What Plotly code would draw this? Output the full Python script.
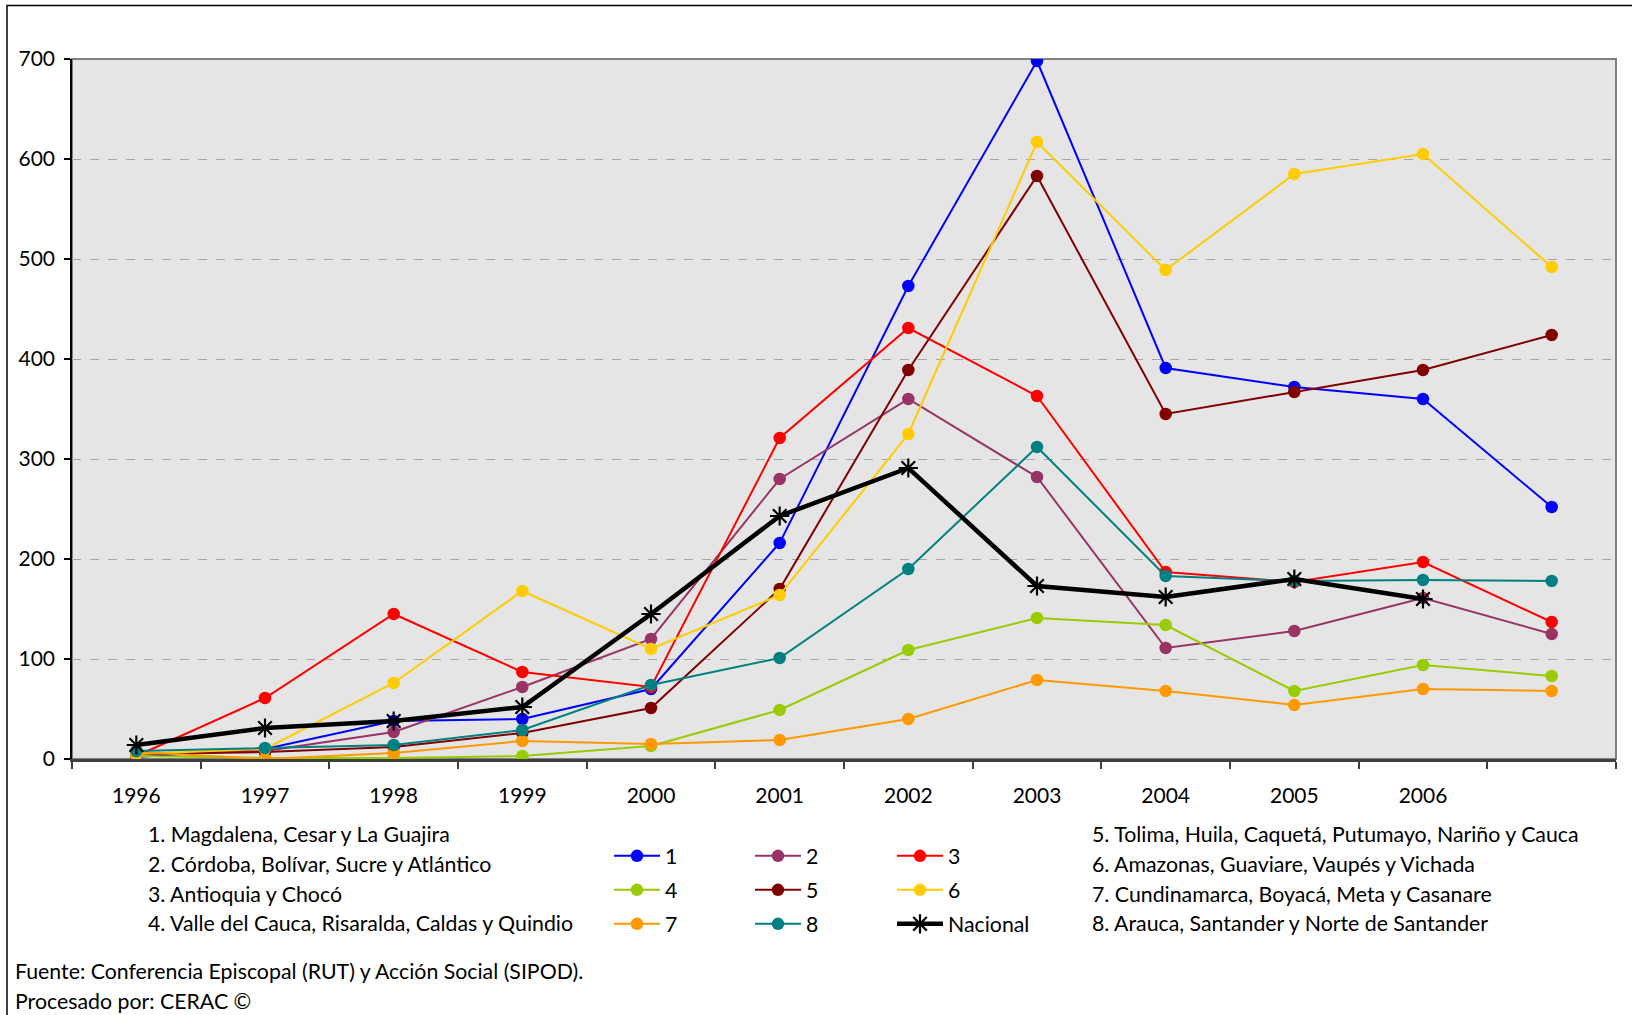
import plotly.graph_objects as go

years = ["1996", "1997", "1998", "1999", "2000", "2001", "2002", "2003", "2004", "2005", "2006", "2007"]
tick_labels = ["1996", "1997", "1998", "1999", "2000", "2001", "2002", "2003", "2004", "2005", "2006", ""]

s1 = [2, 10, 38, 40, 70, 216, 473, 698, 391, 372, 360, 252]
s2 = [5, 8, 27, 72, 120, 280, 360, 282, 111, 128, 161, 125]
s3 = [3, 61, 145, 87, 72, 321, 431, 363, 187, 177, 197, 137]
s4 = [3, 1, 1, 3, 13, 49, 109, 141, 134, 68, 94, 83]
s5 = [5, 7, 12, 26, 51, 170, 389, 583, 345, 367, 389, 424]
s6 = [5, 10, 76, 168, 110, 164, 325, 617, 489, 585, 605, 492]
s7 = [7, 0, 6, 18, 15, 19, 40, 79, 68, 54, 70, 68]
s8 = [8, 11, 14, 29, 74, 101, 190, 312, 183, 178, 179, 178]
nacional = [14, 31, 38, 52, 145, 243, 291, 173, 162, 180, 160, None]

series_names = ["1", "2", "3", "4", "5", "6", "7", "8"]
series_values = [s1, s2, s3, s4, s5, s6, s7, s8]
series_colors = ["#0000FF", "#993366", "#FF0000", "#99CC00", "#800000", "#FFCC00", "#FF9900", "#008080"]

desc_left = [
    "1. Magdalena, Cesar y La Guajira",
    "2. Córdoba, Bolívar, Sucre y Atlántico",
    "3. Antioquia y Chocó",
    "4. Valle del Cauca, Risaralda, Caldas y Quindio",
]
desc_right = [
    "5. Tolima, Huila, Caquetá, Putumayo, Nariño y Cauca",
    "6. Amazonas, Guaviare, Vaupés y Vichada",
    "7. Cundinamarca, Boyacá, Meta y Casanare",
    "8. Arauca, Santander y Norte de Santander",
]
footer = ["Fuente: Conferencia Episcopal (RUT) y Acción Social (SIPOD).", "Procesado por: CERAC ©"]

FONT = "Lato"
FS = 21.3
FS_TICK = 21
W, H = 1632, 1015
L, R, T, B = 72, 16, 59, 256
PW = W - L - R
PH = H - T - B


def px(x):
    return (x - L) / PW


def py(y):
    return (H - B - y) / PH


fig = go.Figure()

legend_ids = ["legend", "legend2", "legend3", "legend4", "legend5", "legend6", "legend7", "legend8", "legend9"]

for i, (name, vals, col) in enumerate(zip(series_names, series_values, series_colors)):
    fig.add_trace(go.Scatter(
        x=years, y=vals, name=name, mode="lines+markers",
        line=dict(color=col, width=2),
        marker=dict(color=col, size=12.5, symbol="circle"),
        legend=legend_ids[i],
    ))

fig.add_trace(go.Scatter(
    x=years, y=nacional, name="Nacional", mode="lines+markers",
    line=dict(color="#000000", width=4.5),
    marker=dict(color="#000000", size=16, symbol="asterisk-open", line=dict(color="#000000", width=2.2)),
    legend=legend_ids[8],
))

# legend grid positions (pixel coords)
col_x = [609, 750, 892]
row_y = [856, 890, 924]
layout_legends = {}
for k in range(9):
    r, c = divmod(k, 3)
    layout_legends[legend_ids[k]] = dict(
        x=px(col_x[c]), y=py(row_y[r]), xanchor="left", yanchor="middle",
        bgcolor="rgba(0,0,0,0)", borderwidth=0,
        font=dict(family=FONT, size=FS, color="#000000"),
        itemwidth=46,
    )

annotations = []
for j, t in enumerate(desc_left):
    annotations.append(dict(text=t, xref="paper", yref="paper", x=px(146), y=py(834 + j * 29.8),
                            xanchor="left", yanchor="middle", showarrow=False,
                            font=dict(family=FONT, size=FS, color="#000000")))
for j, t in enumerate(desc_right):
    annotations.append(dict(text=t, xref="paper", yref="paper", x=px(1090), y=py(834 + j * 29.8),
                            xanchor="left", yanchor="middle", showarrow=False,
                            font=dict(family=FONT, size=FS, color="#000000")))
for j, t in enumerate(footer):
    annotations.append(dict(text=t, xref="paper", yref="paper", x=px(13), y=py(971 + j * 30),
                            xanchor="left", yanchor="middle", showarrow=False,
                            font=dict(family=FONT, size=FS, color="#000000")))

shapes = [
    # outer frame (extends past right/bottom edges)
    dict(type="rect", xref="paper", yref="paper", x0=px(7), x1=px(W + 20), y0=py(5.5), y1=py(H + 20),
         line=dict(color="#000000", width=1.5), fillcolor="rgba(0,0,0,0)", layer="below"),
    # plot area outline (top/right grey)
    dict(type="rect", xref="paper", yref="paper", x0=0, x1=1, y0=0, y1=1,
         line=dict(color="#808080", width=2), fillcolor="rgba(0,0,0,0)", layer="below"),
]

fig.update_layout(
    width=W, height=H,
    margin=dict(l=L, r=R, t=T, b=B, pad=0),
    paper_bgcolor="#FFFFFF",
    plot_bgcolor="#E5E5E5",
    font=dict(family=FONT, size=FS, color="#000000"),
    showlegend=True,
    annotations=annotations,
    shapes=shapes,
    **layout_legends,
)

fig.update_xaxes(
    type="category", categoryorder="array", categoryarray=years,
    tickmode="array", tickvals=years, ticktext=tick_labels,
    tickson="boundaries", ticks="outside", ticklen=7, tickwidth=1.5, tickcolor="#404040",
    showline=True, linecolor="#404040", linewidth=2.5,
    showgrid=False, zeroline=False,
    tickfont=dict(family=FONT, size=FS_TICK, color="#000000"),
    ticklabelstandoff=16,
    range=[-0.5, 11.5],
)
fig.update_yaxes(
    range=[0, 700], tickmode="array", tickvals=[0, 100, 200, 300, 400, 500, 600, 700],
    ticks="outside", ticklen=6, tickwidth=1.5, tickcolor="#000000",
    showline=True, linecolor="#000000", linewidth=1.5,
    showgrid=True, gridcolor="#A6A6A6", gridwidth=1.2, griddash="dash",
    zeroline=False,
    tickfont=dict(family=FONT, size=FS_TICK, color="#000000"),
    ticklabelstandoff=5,
)

fig.write_html("out.html", config={"displayModeBar": False},
               post_script="document.body.style.margin='0';document.body.style.overflow='hidden';")
